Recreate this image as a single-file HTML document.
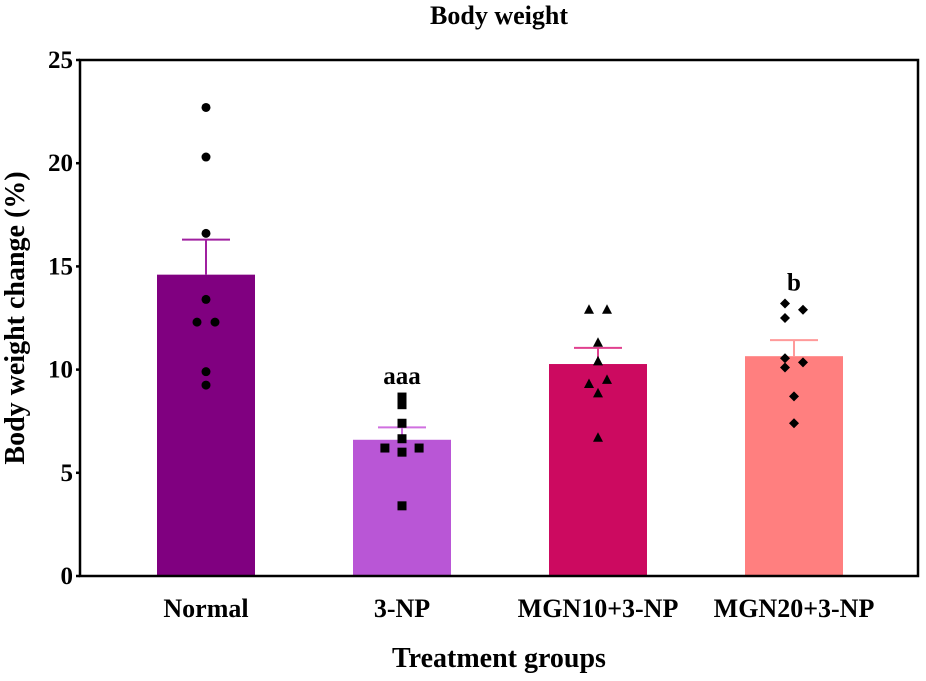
<!DOCTYPE html>
<html><head><meta charset="utf-8"><style>
body{margin:0;background:#fff}
svg text{font-family:"Liberation Serif",serif;font-weight:bold}
</style></head><body>
<svg id="c" width="926" height="676"></svg>
<script>
const categories=["Normal","3-NP","MGN10+3-NP","MGN20+3-NP"];
const means=[14.6,6.6,10.27,10.65];
const sems=[1.7,0.6,0.78,0.78];
const pointsNormal=[22.7,20.3,16.6,13.4,12.3,12.3,9.9,9.25];
const points3NP=[8.67,8.3,7.4,6.65,6.2,6.2,6.0,3.4];
const pointsMGN10=[12.9,12.9,11.3,10.4,9.5,9.3,8.85,6.7];
const pointsMGN20=[13.2,12.9,12.5,10.55,10.35,10.1,8.7,7.4];
const jitterNormal=[0,0,0,0,-1,1,0,0];
const jitter3NP=[0,0,0,0,-1.9,1.9,0,0];
const jitterMGN10=[-1,1,0,0,1,-1,0,0];
const jitterMGN20=[-1,1,-1,-1,1,-1,0,0];
const sigLabels=["","aaa","","b"];
const yTicks=[0,5,10,15,20,25];
const allPoints=[pointsNormal,points3NP,pointsMGN10,pointsMGN20];
const allJitter=[jitterNormal,jitter3NP,jitterMGN10,jitterMGN20];
const fills=["#800080","#b956d6","#cc0a60","#ff7f7f"];
const errCols=["#a020a0","#d070e0","#e0408f","#ff9a9a"];
const shapes=["circle","square","triangle","diamond"];
const L=80,R=918,T=60,B=576,yMax=25;
const y=v=>B-v/yMax*(B-T);
const xc=i=>206+i*196;
const bw=98;
const svg=document.getElementById('c');
const NS="http://www.w3.org/2000/svg";
function mk(tag,attrs,parent){const e=document.createElementNS(NS,tag);for(const k in attrs)e.setAttribute(k,attrs[k]);(parent||svg).appendChild(e);return e;}
function txt(s,attrs){const e=mk('text',attrs);e.textContent=s;return e;}
let t=txt("Body weight",{x:499,y:24,'font-size':26,'text-anchor':'middle'});


categories.forEach((c,i)=>{
  const g=mk('g',{});
  
  
  const r=mk('rect',{x:xc(i)-bw/2,y:y(means[i]),width:bw,height:B-y(means[i]),fill:fills[i]},g);
  
  
  const eb=mk('path',{d:`M${xc(i)} ${y(means[i])}V${y(means[i]+sems[i])}M${xc(i)-24} ${y(means[i]+sems[i])}H${xc(i)+24}`,stroke:errCols[i],'stroke-width':2,fill:'none'},g);
  
  
  allPoints[i].forEach((v,j)=>{
    const px=xc(i)+allJitter[i][j]*9, py=y(v);
    let p;
    if(shapes[i]==='circle')p=mk('circle',{cx:px,cy:py,r:4.5,fill:'#000'},g);
    else if(shapes[i]==='square')p=mk('rect',{x:px-4.5,y:py-4.5,width:9,height:9,fill:'#000'},g);
    else if(shapes[i]==='triangle')p=mk('path',{d:`M${px} ${py-5.5}L${px+5} ${py+4}L${px-5} ${py+4}Z`,fill:'#000'},g);
    else p=mk('path',{d:`M${px} ${py-5}L${px+5} ${py}L${px} ${py+5}L${px-5} ${py}Z`,fill:'#000'},g);
    
    
  });
  if(sigLabels[i]){
    const s=txt(sigLabels[i],{x:xc(i),y:y(allPoints[i][0])-13,'font-size':25,'text-anchor':'middle'});
    
    
  }
  const xl=txt(c,{x:xc(i),y:617,'font-size':26,'text-anchor':'middle'});
  
  
});
const frame=mk('rect',{x:L,y:T,width:R-L,height:B-T,fill:'none',stroke:'#000','stroke-width':2.5});


yTicks.forEach(v=>{
  const tk=mk('line',{x1:L-4,x2:L,y1:y(v),y2:y(v),stroke:'#000','stroke-width':2.5});
  
  
  const tl=txt(String(v),{x:L-7,y:y(v)+8,'font-size':25,'text-anchor':'end'});
  
  
});
const yt=txt("Body weight change (%)",{x:0,y:0,'font-size':28,'text-anchor':'middle',transform:`translate(24,${(T+B)/2}) rotate(-90)`});


const xt=txt("Treatment groups",{x:499,y:667,'font-size':28,'text-anchor':'middle'});


</script>
</body></html>
